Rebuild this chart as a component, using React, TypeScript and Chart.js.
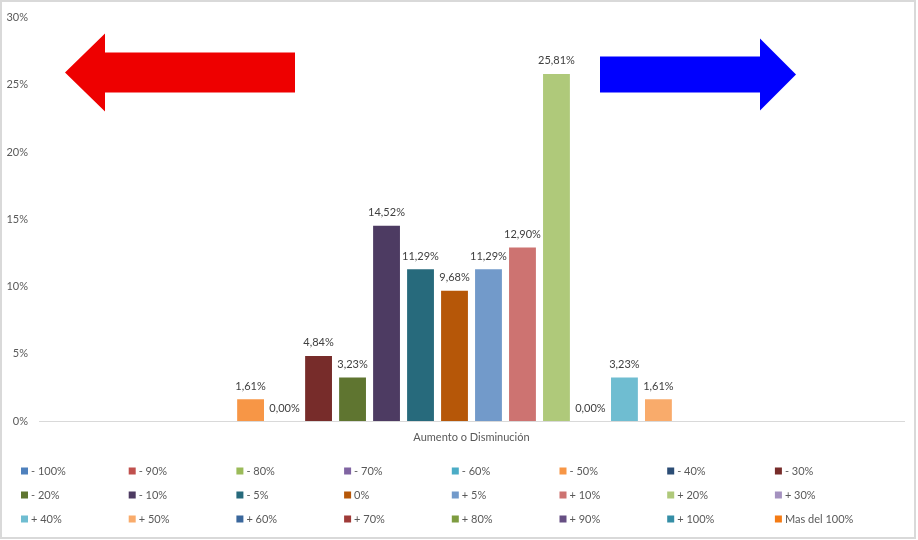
import React, { useEffect, useRef } from "react";
import { Chart, registerables } from "chart.js";

Chart.register(...registerables);

const categories = ["Aumento o Disminución"];

const seriesNames = [
  "- 100%", "- 90%", "- 80%", "- 70%", "- 60%", "- 50%", "- 40%", "- 30%",
  "- 20%", "- 10%", "- 5%", "0%", "+ 5%", "+ 10%", "+ 20%", "+ 30%",
  "+ 40%", "+ 50%", "+ 60%", "+ 70%", "+ 80%", "+ 90%", "+ 100%", "Mas del 100%",
];

const seriesValues: (number | null)[] = [
  null, null, null, null, null, 1.61, 0.0, 4.84,
  3.23, 14.52, 11.29, 9.68, 11.29, 12.9, 25.81, 0.0,
  3.23, 1.61, null, null, null, null, null, null,
];

const seriesColors = [
  "#4F81BD", "#C0504D", "#9BBB59", "#8064A2", "#4BACC6", "#F79646", "#2C4D75", "#772C2A",
  "#5F7530", "#4D3B62", "#276A7C", "#B65708", "#729ACA", "#CD7371", "#AFC97A", "#A491BF",
  "#6FBDD1", "#F9AB6B", "#3A679C", "#9F3B38", "#7E9C40", "#664F83", "#358EA6", "#F47B14",
];

const yTickStep = 5;
const yMax = 30;

const FONT = "Lato";

const fmtPct = (v: number) => v.toFixed(2).replace(".", ",") + "%";

const framePlugin = {
  id: "frame",
  beforeDraw(chart: any) {
    const { ctx, width, height } = chart;
    ctx.save();
    ctx.fillStyle = "#ffffff";
    ctx.fillRect(0, 0, width, height);
    ctx.strokeStyle = "#d9d9d9";
    ctx.lineWidth = 2;
    ctx.strokeRect(1, 1, width - 4, height - 3);
    ctx.restore();
  },
};

const arrowsPlugin = {
  id: "arrows",
  afterDraw(chart: any) {
    const { ctx } = chart;
    const a = chart.chartArea;
    ctx.save();
    const l = a.left;
    const t = a.top;
    // red arrow pointing left
    ctx.fillStyle = "#EE0000";
    ctx.beginPath();
    ctx.moveTo(l + 26, t + 55);
    ctx.lineTo(l + 66, t + 16);
    ctx.lineTo(l + 66, t + 35);
    ctx.lineTo(l + 256, t + 35);
    ctx.lineTo(l + 256, t + 75);
    ctx.lineTo(l + 66, t + 75);
    ctx.lineTo(l + 66, t + 94);
    ctx.closePath();
    ctx.fill();
    // blue arrow pointing right
    ctx.fillStyle = "#0000FF";
    ctx.beginPath();
    ctx.moveTo(l + 561, t + 39);
    ctx.lineTo(l + 721, t + 39);
    ctx.lineTo(l + 721, t + 21);
    ctx.lineTo(l + 757, t + 57);
    ctx.lineTo(l + 721, t + 93);
    ctx.lineTo(l + 721, t + 75);
    ctx.lineTo(l + 561, t + 75);
    ctx.closePath();
    ctx.fill();
    ctx.restore();
  },
};

const labelsPlugin = {
  id: "barLabels",
  afterDatasetsDraw(chart: any) {
    const { ctx } = chart;
    ctx.save();
    ctx.font = `11px ${FONT}`;
    ctx.fillStyle = "#404040";
    ctx.textAlign = "center";
    ctx.textBaseline = "bottom";
    chart.data.datasets.forEach((ds: any, i: number) => {
      const meta = chart.getDatasetMeta(i);
      ds.data.forEach((v: number | null, j: number) => {
        if (v === null || v === undefined) return;
        const el = meta.data[j];
        ctx.fillText(fmtPct(v), el.x, el.y - 7.5);
      });
    });
    ctx.restore();
  },
};

const legendPlugin = {
  id: "gridLegend",
  afterDraw(chart: any) {
    const { ctx } = chart;
    const cols = 8;
    const colW = 107.7;
    const x0 = 21;
    const y0 = 471;
    const rowH = 24;
    ctx.save();
    ctx.font = `11px ${FONT}`;
    ctx.textBaseline = "middle";
    ctx.textAlign = "left";
    chart.data.datasets.forEach((ds: any, i: number) => {
      const c = i % cols;
      const r = Math.floor(i / cols);
      const x = x0 + c * colW;
      const y = y0 + r * rowH;
      ctx.fillStyle = ds.backgroundColor;
      ctx.fillRect(x, y - 3.5, 7, 7);
      ctx.fillStyle = "#595959";
      ctx.fillText(ds.label, x + 10, y + 0.5);
    });
    ctx.restore();
  },
};

export default function App() {
  const ref = useRef<HTMLCanvasElement | null>(null);

  useEffect(() => {
    document.body.style.margin = "0";
    if (!ref.current) return;
    const chart = new Chart(ref.current, {
      type: "bar",
      data: {
        labels: categories,
        datasets: seriesNames.map((name, i) => ({
          label: name,
          data: [seriesValues[i]],
          backgroundColor: seriesColors[i],
          borderWidth: 0,
          categoryPercentage: 0.943,
          barPercentage: 0.79,
        })),
      },
      options: {
        responsive: false,
        animation: false,
        layout: { padding: { top: 16, right: 14, left: 0, bottom: 0 } },
        plugins: {
          legend: { display: false },
          tooltip: { enabled: false },
        },
        scales: {
          x: {
            grid: { display: false, drawTicks: false },
            border: { display: true, color: "#d9d9d9", width: 1 },
            ticks: { color: "#595959", font: { family: FONT, size: 11 }, padding: 10 },
            afterFit: (s: any) => {
              s.height = 119;
            },
          },
          y: {
            min: 0,
            max: yMax,
            grid: { display: false, drawTicks: false },
            border: { display: false },
            ticks: {
              stepSize: yTickStep,
              color: "#595959",
              font: { family: FONT, size: 11 },
              padding: 11,
              callback: (v: any) => v + "%",
            },
            afterFit: (s: any) => {
              s.width = 39;
            },
          },
        },
      },
      plugins: [framePlugin, arrowsPlugin, labelsPlugin, legendPlugin],
    });
    return () => chart.destroy();
  }, []);

  return (
    <div style={{ width: 918, height: 540 }}>
      <canvas ref={ref} width={918} height={540} />
    </div>
  );
}
